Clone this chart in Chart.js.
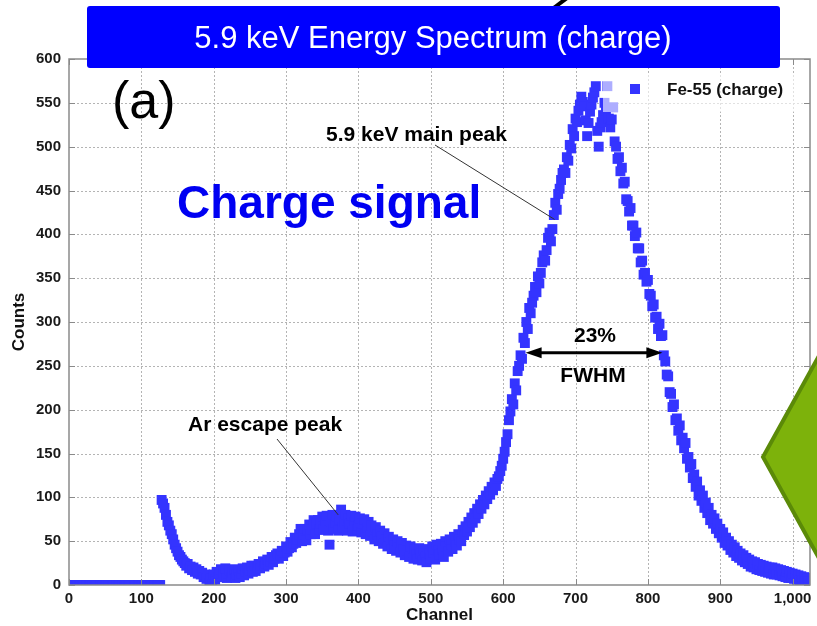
<!DOCTYPE html>
<html>
<head>
<meta charset="utf-8">
<script src="https://cdn.jsdelivr.net/npm/chart.js@4.4.1/dist/chart.umd.min.js"></script>
<style>
  html, body { margin: 0; padding: 0; background: #fff; }
  canvas { display: block; }
</style>
</head>
<body>
<canvas id="spectrum" width="817" height="626"></canvas>
<script>
// Fe-55 spectrum, charge readout: counts per 2-channel bin
const channels = [
  0, 2, 4, 6, 8, 10, 12, 14, 16, 18, 20, 22, 24, 26, 28, 30,
  32, 34, 36, 38, 40, 42, 44, 46, 48, 50, 52, 54, 56, 58, 60, 62,
  64, 66, 68, 70, 72, 74, 76, 78, 80, 82, 84, 86, 88, 90, 92, 94,
  96, 98, 100, 102, 104, 106, 108, 110, 112, 114, 116, 118, 120, 122, 124, 126,
  128, 130, 132, 134, 136, 138, 140, 142, 144, 146, 148, 150, 152, 154, 156, 158,
  160, 162, 164, 166, 168, 170, 172, 174, 176, 178, 180, 182, 184, 186, 188, 190,
  192, 194, 196, 198, 200, 202, 204, 206, 208, 210, 212, 214, 216, 218, 220, 222,
  224, 226, 228, 230, 232, 234, 236, 238, 240, 242, 244, 246, 248, 250, 252, 254,
  256, 258, 260, 262, 264, 266, 268, 270, 272, 274, 276, 278, 280, 282, 284, 286,
  288, 290, 292, 294, 296, 298, 300, 302, 304, 306, 308, 310, 312, 314, 316, 318,
  320, 322, 324, 326, 328, 330, 332, 334, 336, 338, 340, 342, 344, 346, 348, 350,
  352, 354, 356, 358, 360, 362, 364, 366, 368, 370, 372, 374, 376, 378, 380, 382,
  384, 386, 388, 390, 392, 394, 396, 398, 400, 402, 404, 406, 408, 410, 412, 414,
  416, 418, 420, 422, 424, 426, 428, 430, 432, 434, 436, 438, 440, 442, 444, 446,
  448, 450, 452, 454, 456, 458, 460, 462, 464, 466, 468, 470, 472, 474, 476, 478,
  480, 482, 484, 486, 488, 490, 492, 494, 496, 498, 500, 502, 504, 506, 508, 510,
  512, 514, 516, 518, 520, 522, 524, 526, 528, 530, 532, 534, 536, 538, 540, 542,
  544, 546, 548, 550, 552, 554, 556, 558, 560, 562, 564, 566, 568, 570, 572, 574,
  576, 578, 580, 582, 584, 586, 588, 590, 592, 594, 596, 598, 600, 602, 604, 606,
  608, 610, 612, 614, 616, 618, 620, 622, 624, 626, 628, 630, 632, 634, 636, 638,
  640, 642, 644, 646, 648, 650, 652, 654, 656, 658, 660, 662, 664, 666, 668, 670,
  672, 674, 676, 678, 680, 682, 684, 686, 688, 690, 692, 694, 696, 698, 700, 702,
  704, 706, 708, 710, 712, 714, 716, 718, 720, 722, 724, 726, 728, 730, 732, 734,
  736, 738, 740, 742, 744, 746, 748, 750, 752, 754, 756, 758, 760, 762, 764, 766,
  768, 770, 772, 774, 776, 778, 780, 782, 784, 786, 788, 790, 792, 794, 796, 798,
  800, 802, 804, 806, 808, 810, 812, 814, 816, 818, 820, 822, 824, 826, 828, 830,
  832, 834, 836, 838, 840, 842, 844, 846, 848, 850, 852, 854, 856, 858, 860, 862,
  864, 866, 868, 870, 872, 874, 876, 878, 880, 882, 884, 886, 888, 890, 892, 894,
  896, 898, 900, 902, 904, 906, 908, 910, 912, 914, 916, 918, 920, 922, 924, 926,
  928, 930, 932, 934, 936, 938, 940, 942, 944, 946, 948, 950, 952, 954, 956, 958,
  960, 962, 964, 966, 968, 970, 972, 974, 976, 978, 980, 982, 984, 986, 988, 990,
  992, 994, 996, 998, 1000, 1002, 1004, 1006, 1008, 1010, 1012, 1014, 1016, 1018, 1020, 1022
];
const counts = [
  0, 0, 0, 0, 0, 0, 0, 0, 0, 0, 0, 0, 0, 0, 0, 0,
  0, 0, 0, 0, 0, 0, 0, 0, 0, 0, 0, 0, 0, 0, 0, 0,
  0, 0, 0, 0, 0, 0, 0, 0, 0, 0, 0, 0, 0, 0, 0, 0,
  0, 0, 0, 0, 0, 0, 0, 0, 0, 0, 0, 0, 0, 0, 0, 0,
  97, 93, 88, 80, 72, 68, 62, 58, 52, 46, 42, 38, 34, 32, 29, 27,
  25, 22, 24, 19, 21, 17, 20, 15, 18, 13, 16, 12, 14, 9, 12, 7,
  10, 3, 7, 1, 12, 6, 15, 9, 13, 18, 10, 14, 19, 8, 13, 17,
  9, 14, 18, 8, 12, 17, 9, 13, 19, 11, 15, 20, 13, 17, 22, 15,
  22, 16, 20, 24, 19, 22, 27, 21, 25, 29, 23, 27, 32, 26, 30, 34,
  36, 30, 34, 39, 33, 37, 44, 38, 42, 49, 43, 47, 54, 48, 52, 58,
  64, 50, 58, 64, 51, 63, 69, 58, 63, 74, 58, 70, 74, 63, 70, 78,
  63, 74, 79, 62, 46, 72, 80, 64, 71, 78, 62, 75, 86, 66, 72, 80,
  62, 76, 70, 79, 61, 72, 78, 63, 68, 76, 60, 70, 75, 58, 66, 72,
  56, 68, 61, 52, 66, 58, 50, 62, 55, 47, 59, 52, 44, 55, 49, 41,
  52, 45, 39, 50, 43, 37, 48, 41, 34, 45, 39, 32, 44, 37, 30, 41,
  35, 29, 42, 36, 28, 40, 33, 26, 41, 36, 30, 44, 37, 29, 46, 39,
  35, 47, 40, 32, 50, 44, 38, 52, 46, 41, 55, 49, 45, 58, 52, 50,
  63, 57, 67, 61, 72, 66, 77, 71, 82, 76, 87, 81, 92, 87, 97, 92,
  102, 98, 107, 103, 112, 108, 117, 113, 121, 124, 130, 136, 144, 152, 163, 172,
  188, 198, 212, 206, 230, 222, 244, 250, 262, 258, 282, 276, 300, 292, 316, 310,
  322, 330, 340, 334, 352, 344, 356, 368, 376, 370, 382, 396, 402, 392, 406, 422,
  436, 428, 446, 452, 462, 470, 474, 470, 488, 484, 502, 498, 520, 512, 532, 528,
  541, 548, 557, 551, 546, 530, 512, 527, 540, 548, 556, 562, 569, 518, 500, 522,
  528, 536, 550, 541, 569, 532, 522, 531, 545, 506, 500, 486, 488, 472, 476, 458,
  460, 440, 438, 426, 430, 410, 410, 398, 402, 384, 384, 368, 370, 354, 356, 346,
  348, 332, 330, 318, 320, 305, 306, 292, 298, 284, 285, 262, 255, 240, 238, 220,
  218, 203, 206, 188, 190, 176, 182, 165, 168, 156, 162, 144, 146, 134, 138, 122,
  126, 112, 118, 102, 108, 96, 102, 88, 94, 82, 88, 74, 80, 70, 76, 64,
  70, 59, 64, 54, 60, 48, 54, 45, 50, 40, 46, 37, 43, 33, 39, 31,
  36, 28, 34, 26, 31, 24, 29, 21, 27, 20, 26, 18, 24, 17, 23, 16,
  22, 15, 21, 14, 20, 13, 20, 12, 19, 12, 18, 11, 17, 10, 16, 9,
  15, 8, 14, 8, 13, 7, 12, 6, 11, 5, 10, 5, 9, 4, 8, 4
];
const seriesLabel = 'Fe-55 (charge)';
const yTickStep = 50;
const xTickStep = 100;

// FWHM marker: counts level and the two channels where it crosses the peak
const fwhmLevel = 265;
const fwhmFrom = 631;
const fwhmTo = 820;

const FONT = '"Liberation Sans", Arial, Helvetica, sans-serif';
const POINT_COLOR = '#3434ff';

Chart.defaults.font.family = FONT;

function arrowHead(ctx, x, y, dir) {
  ctx.beginPath();
  ctx.moveTo(x, y);
  ctx.lineTo(x - dir * 16, y - 5.5);
  ctx.lineTo(x - dir * 16, y + 5.5);
  ctx.closePath();
  ctx.fill();
}

const frame = {
  id: 'frame',
  beforeDatasetsDraw(chart) {
    const {ctx, chartArea: a, scales: {x, y}} = chart;
    ctx.save();
    ctx.strokeStyle = '#b4b4b4';
    ctx.lineWidth = 1;
    ctx.setLineDash([2, 2]);
    x.ticks.forEach(t => {
      const px = Math.round(x.getPixelForValue(t.value)) + 0.5;
      if (px <= a.left + 1 || px >= a.right - 1) return;
      ctx.beginPath(); ctx.moveTo(px, a.top); ctx.lineTo(px, a.bottom); ctx.stroke();
    });
    y.ticks.forEach(t => {
      const py = Math.round(y.getPixelForValue(t.value)) + 0.5;
      if (py <= a.top + 1 || py >= a.bottom - 1) return;
      ctx.beginPath(); ctx.moveTo(a.left, py); ctx.lineTo(a.right, py); ctx.stroke();
    });
    ctx.restore();
  },
  afterDatasetsDraw(chart) {
    const {ctx, chartArea: a, scales: {x, y}} = chart;
    ctx.save();

    // legend sits on a translucent panel over the peak
    ctx.fillStyle = 'rgba(255,255,255,0.6)';
    ctx.fillRect(603, 74, 205, 38);
    ctx.fillStyle = POINT_COLOR;
    ctx.fillRect(630, 84, 10, 10);
    ctx.fillStyle = '#111';
    ctx.font = 'bold 17px ' + FONT;
    ctx.textAlign = 'left';
    ctx.textBaseline = 'alphabetic';
    ctx.fillText(chart.data.datasets[0].label, 667, 95);

    // panel tag
    ctx.fillStyle = '#000';
    ctx.font = '52px ' + FONT;
    ctx.fillText('(a)', 112, 118);

    // peak labels + leader lines
    ctx.font = 'bold 21px ' + FONT;
    ctx.fillText('5.9 keV main peak', 326, 141);
    ctx.fillText('Ar escape peak', 188, 431);
    ctx.strokeStyle = '#333';
    ctx.lineWidth = 1;
    ctx.beginPath();
    ctx.moveTo(435, 145);
    ctx.lineTo(x.getPixelForValue(671), y.getPixelForValue(417));
    ctx.moveTo(277, 439);
    ctx.lineTo(x.getPixelForValue(372), y.getPixelForValue(80));
    ctx.stroke();

    // FWHM double arrow
    const fy = y.getPixelForValue(fwhmLevel);
    const fx1 = x.getPixelForValue(fwhmFrom);
    const fx2 = x.getPixelForValue(fwhmTo);
    ctx.strokeStyle = '#000';
    ctx.fillStyle = '#000';
    ctx.lineWidth = 3;
    ctx.beginPath();
    ctx.moveTo(fx1 + 10, fy);
    ctx.lineTo(fx2 - 10, fy);
    ctx.stroke();
    arrowHead(ctx, fx1, fy, -1);
    arrowHead(ctx, fx2, fy, 1);
    ctx.textAlign = 'center';
    ctx.fillText('23%', 595, 342);
    ctx.fillText('FWHM', 593, 382);

    // big blue caption
    ctx.textAlign = 'left';
    ctx.fillStyle = '#0000f2';
    ctx.font = 'bold 46px ' + FONT;
    ctx.fillText('Charge signal', 177, 218);

    // plot frame with inward ticks
    ctx.strokeStyle = '#8a8a8a';
    ctx.lineWidth = 1.5;
    ctx.strokeRect(a.left, a.top, a.right - a.left, a.bottom - a.top);
    ctx.lineWidth = 1;
    ctx.beginPath();
    x.ticks.forEach(t => {
      const px = Math.round(x.getPixelForValue(t.value)) + 0.5;
      ctx.moveTo(px, a.bottom); ctx.lineTo(px, a.bottom - 6);
      ctx.moveTo(px, a.top); ctx.lineTo(px, a.top + 6);
    });
    y.ticks.forEach(t => {
      const py = Math.round(y.getPixelForValue(t.value)) + 0.5;
      ctx.moveTo(a.left, py); ctx.lineTo(a.left + 6, py);
      ctx.moveTo(a.right, py); ctx.lineTo(a.right - 6, py);
    });
    ctx.stroke();

    // green pointer on the right edge
    ctx.beginPath();
    ctx.moveTo(763, 457);
    ctx.lineTo(830, 336);
    ctx.lineTo(830, 578);
    ctx.closePath();
    ctx.fillStyle = '#7db20b';
    ctx.fill();
    ctx.strokeStyle = '#5b8a08';
    ctx.lineWidth = 4;
    ctx.lineJoin = 'miter';
    ctx.stroke();

    // dark stroke peeking above the banner
    ctx.strokeStyle = '#000';
    ctx.lineWidth = 4;
    ctx.beginPath();
    ctx.moveTo(551, 10);
    ctx.lineTo(567, -2);
    ctx.stroke();

    // title banner
    ctx.fillStyle = '#0000ff';
    ctx.beginPath();
    ctx.roundRect(87, 6, 693, 62, 3);
    ctx.fill();
    ctx.fillStyle = '#fff';
    ctx.font = '31px ' + FONT;
    ctx.textAlign = 'center';
    ctx.fillText('5.9 keV Energy Spectrum (charge)', 433, 48);

    ctx.restore();
  }
};

new Chart(document.getElementById('spectrum'), {
  type: 'scatter',
  data: {
    datasets: [{
      label: seriesLabel,
      data: channels.map((c, i) => ({x: c, y: counts[i]})),
      pointStyle: 'rect',
      pointRadius: 7,
      pointHoverRadius: 7,
      backgroundColor: POINT_COLOR,
      borderWidth: 0,
      clip: 0
    }]
  },
  options: {
    responsive: false,
    animation: false,
    layout: {padding: {top: 59, right: 5, left: 0, bottom: 0}},
    plugins: {legend: {display: false}, tooltip: {enabled: false}},
    scales: {
      x: {
        type: 'linear',
        min: 0,
        max: 1024,
        grid: {display: false, drawTicks: false},
        border: {display: false},
        ticks: {
          stepSize: xTickStep,
          includeBounds: false,
          maxRotation: 0,
          padding: 5,
          color: '#1a1a1a',
          font: {size: 15, weight: 'bold'}
        },
        title: {
          display: true,
          text: 'Channel',
          color: '#111',
          padding: {top: 0, bottom: 0},
          font: {size: 17, weight: 'bold'}
        },
        afterFit(scale) { scale.height = 41; }
      },
      y: {
        min: 0,
        max: 600,
        grid: {display: false, drawTicks: false},
        border: {display: false},
        ticks: {
          stepSize: yTickStep,
          padding: 8,
          color: '#1a1a1a',
          font: {size: 15, weight: 'bold'}
        },
        title: {
          display: true,
          text: 'Counts',
          color: '#111',
          padding: {top: 9, bottom: 0},
          font: {size: 17, weight: 'bold'}
        },
        afterFit(scale) { scale.width = 69; }
      }
    }
  },
  plugins: [frame]
});
</script>
</body>
</html>
